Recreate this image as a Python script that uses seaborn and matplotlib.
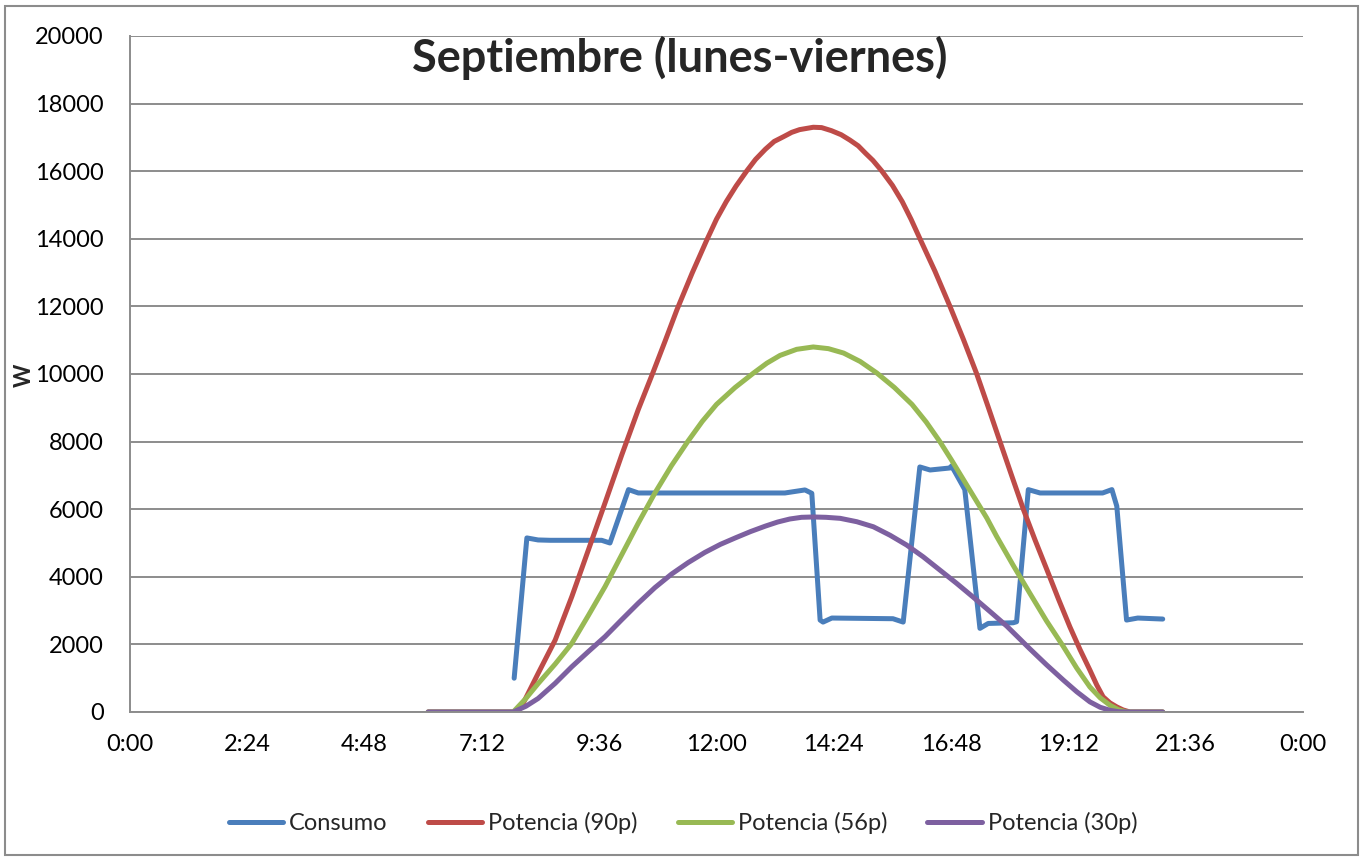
import numpy as np
import pandas as pd
import matplotlib
matplotlib.use("Agg")
import matplotlib.pyplot as plt
from matplotlib.patches import Rectangle
import seaborn as sns

# ---------------- data (hours of day, watts) ----------------
consumo_h = [7.86, 8.12, 8.35, 8.60, 9.65, 9.82, 10.20, 10.40, 13.40, 13.81, 13.95, 14.12, 14.18,
             14.36, 15.61, 15.82, 16.16, 16.37, 16.78, 16.81, 17.08, 17.39, 17.56, 18.07, 18.14,
             18.38, 18.62, 19.90, 20.09, 20.19, 20.39, 20.62, 21.13]
consumo_w = [1000, 5150, 5090, 5080, 5080, 5000, 6580, 6480, 6480, 6570, 6470, 2720, 2660,
             2780, 2760, 2660, 7250, 7160, 7220, 7280, 6580, 2475, 2620, 2640, 2670,
             6580, 6480, 6480, 6580, 6090, 2720, 2780, 2750]

p90_h = [6.10, 7.84, 8.00, 8.35, 8.70, 9.04, 9.38, 9.72, 10.06, 10.40, 10.71, 10.95, 11.19, 11.50,
         11.80, 12.00, 12.20, 12.40, 12.62, 12.80, 13.00, 13.18, 13.37, 13.54, 13.70, 13.98,
         14.15, 14.35, 14.55, 14.73, 14.90, 15.05, 15.20, 15.38, 15.60, 15.80, 15.98, 16.16,
         16.47, 16.78, 17.05, 17.32, 17.56, 17.80, 18.04, 18.28, 18.52, 18.76, 19.00, 19.23,
         19.44, 19.64, 19.78, 19.91, 20.05, 20.19, 20.32, 20.46, 21.13]
p90_w = [0, 0, 130, 1140, 2130, 3415, 4800, 6190, 7600, 8950, 10080, 10980, 11900, 12980,
         13960, 14580, 15100, 15560, 16010, 16350, 16650, 16880, 17020, 17150, 17230, 17300,
         17290, 17200, 17080, 16920, 16750, 16530, 16320, 16010, 15580, 15100, 14580, 14010,
         13040, 11990, 11030, 10020, 9020, 8000, 6990, 5990, 5080, 4210, 3330, 2520,
         1840, 1240, 800, 450, 270, 150, 60, 0, 0]

p56_h = [6.10, 7.84, 8.10, 8.35, 8.70, 9.04, 9.38, 9.72, 10.06, 10.40, 10.74, 11.08, 11.42, 11.71,
         12.00, 12.38, 12.75, 13.03, 13.30, 13.64, 13.98, 14.29, 14.60, 14.94, 15.28, 15.64,
         16.00, 16.29, 16.57, 16.81, 17.05, 17.29, 17.53, 17.73, 18.07, 18.41, 18.75, 19.10,
         19.37, 19.64, 19.85, 20.05, 20.22, 20.39, 21.13]
p56_w = [0, 0, 400, 840, 1420, 2030, 2860, 3710, 4650, 5590, 6480, 7290, 8020, 8600,
         9100, 9600, 10020, 10320, 10550, 10730, 10800, 10750, 10620, 10370, 10030, 9600,
         9100, 8580, 8000, 7450, 6880, 6310, 5740, 5200, 4340, 3515, 2700, 1930,
         1300, 740, 420, 200, 70, 0, 0]

p30_h = [6.10, 7.84, 8.10, 8.35, 8.70, 9.04, 9.38, 9.72, 10.06, 10.40, 10.74, 11.08, 11.42, 11.76,
         12.08, 12.40, 12.70, 13.00, 13.25, 13.50, 13.74, 13.98, 14.24, 14.53, 14.87, 15.21,
         15.55, 15.89, 16.23, 16.57, 16.91, 17.25, 17.59, 17.94, 18.41, 18.75, 19.10, 19.37,
         19.64, 19.85, 20.05, 20.22, 20.39, 21.13]
p30_w = [0, 0, 170, 400, 850, 1340, 1790, 2230, 2730, 3220, 3680, 4080, 4420, 4720,
         4960, 5160, 5340, 5500, 5620, 5710, 5760, 5770, 5760, 5730, 5630, 5480,
         5230, 4940, 4590, 4200, 3810, 3400, 2980, 2540, 1870, 1400, 940, 600,
         300, 140, 50, 10, 0, 0]

series_names = ["Consumo", "Potencia (90p)", "Potencia (56p)", "Potencia (30p)"]
series_colors = ["#4A7EBB", "#BE4B48", "#98B954", "#7D60A0"]

x_ticks = [0, 2.4, 4.8, 7.2, 9.6, 12.0, 14.4, 16.8, 19.2, 21.6, 24.0]
x_labels = ["0:00", "2:24", "4:48", "7:12", "9:36", "12:00", "14:24", "16:48", "19:12", "21:36", "0:00"]
y_ticks = list(range(0, 20001, 2000))

# ---------------- build frame ----------------
frames = []
for name, hs, ws in zip(series_names,
                        [consumo_h, p90_h, p56_h, p30_h],
                        [consumo_w, p90_w, p56_w, p30_w]):
    frames.append(pd.DataFrame({"hora": hs, "W": ws, "serie": name}))
df = pd.concat(frames, ignore_index=True)

sns.set_theme(style="white")
plt.rcParams["font.family"] = ["Lato", "DejaVu Sans"]

W_, H_ = 1363, 861
fig = plt.figure(figsize=(W_ / 100, H_ / 100), dpi=100)
ax = fig.add_axes([130 / W_, 1 - 712 / H_, (1303 - 130) / W_, (712 - 36) / H_])

sns.lineplot(data=df, x="hora", y="W", hue="serie", hue_order=series_names,
             palette=dict(zip(series_names, series_colors)),
             estimator=None, sort=False, linewidth=3.6, ax=ax)
for ln in ax.get_lines():
    ln.set_solid_capstyle("round")
    ln.set_solid_joinstyle("round")

grid_c = "#8c8c8c"
ax.set_xlim(0, 24)
ax.set_ylim(0, 20000)
ax.set_xticks(x_ticks)
ax.set_xticklabels(x_labels)
ax.set_yticks(y_ticks)
ax.set_yticklabels([str(v) for v in y_ticks])
ax.yaxis.grid(True, color=grid_c, linewidth=1.4)
ax.xaxis.grid(False)
ax.set_axisbelow(True)
for s in ["top", "right"]:
    ax.spines[s].set_visible(False)
for s in ["left", "bottom"]:
    ax.spines[s].set_color(grid_c)
    ax.spines[s].set_linewidth(1.4)
ax.tick_params(axis="both", which="major", length=6, width=1.4, color=grid_c,
               labelsize=17, direction="out", pad=10, labelcolor="black")
ax.tick_params(axis="y", pad=13)
ax.set_xlabel("")
ax.set_ylabel("")

handles, labels = ax.get_legend_handles_labels()
if ax.legend_ is not None:
    ax.legend_.remove()
leg = fig.legend(handles, labels, loc="center", bbox_to_anchor=(683 / W_, 1 - 823 / H_),
                 ncol=4, frameon=False, fontsize=17, handlelength=2.3,
                 handletextpad=0.25, columnspacing=1.7)
for lh in leg.get_lines():
    lh.set_linewidth(3.6)

fig.text(680 / W_, 1 - 58 / H_, "Septiembre (lunes-viernes)", ha="center", va="center",
         fontsize=32.5, fontweight="bold")
fig.text(24 / W_, 1 - 375 / H_, "W", rotation=90, ha="center", va="center",
         fontsize=16, fontweight="bold")

fig.add_artist(Rectangle((5 / W_, 6 / H_), (1358 - 5) / W_, (855 - 6) / H_,
                         transform=fig.transFigure, fill=False, edgecolor=grid_c, linewidth=1.5))

fig.savefig("out.png", dpi=100)
